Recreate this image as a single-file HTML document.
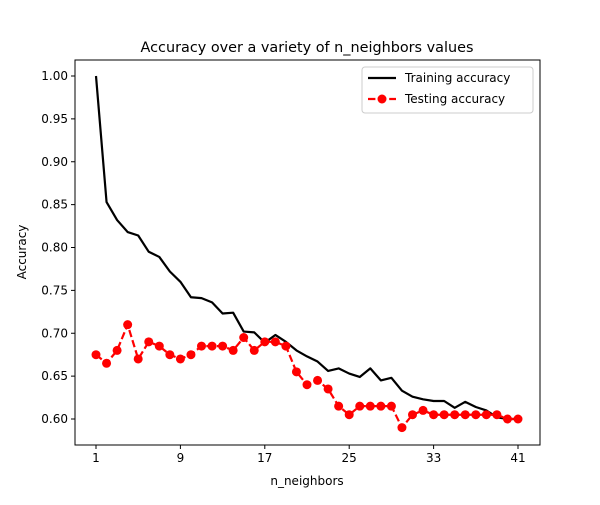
<!DOCTYPE html>
<html><head><meta charset="utf-8"><style>
body{margin:0;background:#fff;}
svg text{font-family:"DejaVu Sans","Liberation Sans",sans-serif;}
</style></head><body>
<svg id="chart" width="600" height="500"></svg>
<script>
const ks=[1,2,3,4,5,6,7,8,9,10,11,12,13,14,15,16,17,18,19,20,21,22,23,24,25,26,27,28,29,30,31,32,33,34,35,36,37,38,39,40,41];
const trainAcc=[1.0,0.853,0.832,0.818,0.814,0.795,0.789,0.772,0.760,0.742,0.741,0.736,0.723,0.724,0.702,0.701,0.689,0.698,0.690,0.680,0.673,0.667,0.656,0.659,0.653,0.649,0.659,0.645,0.648,0.633,0.626,0.623,0.621,0.621,0.613,0.620,0.614,0.610,0.602,0.600,0.600];
const testAcc=[0.675,0.665,0.68,0.71,0.67,0.69,0.685,0.675,0.67,0.675,0.685,0.685,0.685,0.68,0.695,0.68,0.69,0.69,0.685,0.655,0.64,0.645,0.635,0.615,0.605,0.615,0.615,0.615,0.615,0.59,0.605,0.61,0.605,0.605,0.605,0.605,0.605,0.605,0.605,0.6,0.6];
const xTicks=[1,9,17,25,33,41];
const yTicks=[0.60,0.65,0.70,0.75,0.80,0.85,0.90,0.95,1.00];
const L=75,R=540,T=60,B=445;
const X=v=>96+(v-1)*(518-96)/40;
const Y=v=>419-(v-0.6)*(419-76)/0.4;
const NS='http://www.w3.org/2000/svg';
const svg=document.getElementById('chart');
function mk(tag,attrs,parent){const e=document.createElementNS(NS,tag);for(const k in attrs)e.setAttribute(k,attrs[k]);(parent||svg).appendChild(e);return e;}
const frame=mk('rect',{x:L,y:T,width:R-L,height:B-T,fill:'none',stroke:'#000','stroke-width':1});


xTicks.forEach(t=>{
 const g=mk('g',{});
 
 
 mk('line',{x1:X(t),x2:X(t),y1:B,y2:B+4,stroke:'#000'},g);
 const tx=mk('text',{x:X(t),y:B+17,'text-anchor':'middle','font-size':12},g);tx.textContent=t;
});
yTicks.forEach(t=>{
 const g=mk('g',{});
 
 
 mk('line',{x1:L-4,x2:L,y1:Y(t),y2:Y(t),stroke:'#000'},g);
 const tx=mk('text',{x:L-7,y:Y(t)+4,'text-anchor':'end','font-size':12},g);tx.textContent=t.toFixed(2);
});
const tr=mk('polyline',{points:ks.map((k,i)=>X(k)+','+Y(trainAcc[i])).join(' '),fill:'none',stroke:'#000','stroke-width':2.2,'stroke-linejoin':'round'});


const te=mk('polyline',{points:ks.map((k,i)=>X(k)+','+Y(testAcc[i])).join(' '),fill:'none',stroke:'#f00','stroke-width':2.2,'stroke-dasharray':'7.4,3.2'});


ks.forEach((k,i)=>{
 const c=mk('circle',{cx:X(k),cy:Y(testAcc[i]),r:4.5,fill:'#f00'});
 
 
});
</script>
<svg width="600" height="500" style="position:absolute;left:0;top:0;pointer-events:none">
<text x="307" y="52" text-anchor="middle" font-size="14.4">Accuracy over a variety of n_neighbors values</text>
<text x="307" y="485" text-anchor="middle" font-size="12">n_neighbors</text>
<text x="26" y="252" text-anchor="middle" font-size="12" transform="rotate(-90 26 252)">Accuracy</text>
<g>
<rect x="362" y="67" width="171" height="46" rx="3" fill="#fff" stroke="#ccc"/>
<line x1="368" y1="78" x2="396" y2="78" stroke="#000" stroke-width="2.2"/>
<text x="405" y="82" font-size="12">Training accuracy</text>
<line x1="368" y1="99" x2="396" y2="99" stroke="#f00" stroke-width="2.2" stroke-dasharray="7.4,3.2"/>
<circle cx="382" cy="99" r="4.5" fill="#f00"/>
<text x="405" y="103" font-size="12">Testing accuracy</text>
</g>
</svg>
</body></html>
